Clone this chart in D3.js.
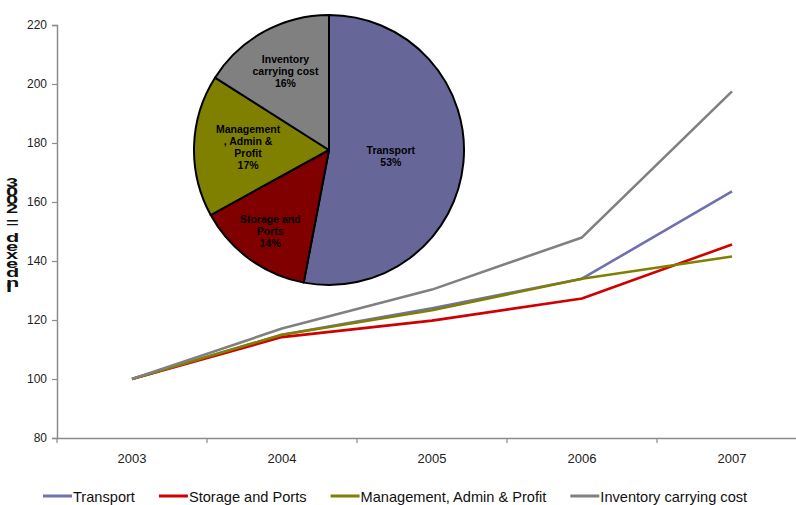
<!DOCTYPE html>
<html>
<head>
<meta charset="utf-8">
<script src="https://cdn.jsdelivr.net/npm/d3@7"></script>
<style>
  html, body { margin: 0; padding: 0; background: #fff; }
  svg { display: block; }
</style>
</head>
<body>
<svg id="chart" width="796" height="505"></svg>
<script>
// ---- data ----
const years = ["2003", "2004", "2005", "2006", "2007"];
const seriesNames = ["Transport", "Storage and Ports", "Management, Admin & Profit", "Inventory carrying cost"];
const transport = [100, 115, 124, 134, 163.6];
const storagePorts = [100, 114.2, 119.8, 127.3, 145.6];
const managementAdmin = [100, 115, 123.3, 134, 141.5];
const inventoryCost = [100, 117.1, 130.3, 148, 197.5];
const yTicks = [80, 100, 120, 140, 160, 180, 200, 220];
const yTitle = "Indexed = 2003";

// cost shares shown in the inset pie (percent)
const shareValues = [53, 14, 17, 16];
const shareLabelLines = [["Transport"], ["Storage and", "Ports"], ["Management", ", Admin &", "Profit"], ["Inventory", "carrying cost"]];

// ---- styling ----
const lineColors = ["#7070b0", "#d00000", "#808000", "#808080"];
const pieColors = ["#666699", "#800000", "#808000", "#808080"];
const axisColor = "#8c8c8c";
const tickFont = "'Liberation Sans', Arial, sans-serif";

const svg = d3.select("#chart");

// ---- scales ----
const x = d3.scaleBand().domain(years).range([57, 807]).padding(0);
const y = d3.scaleLinear().domain([80, 220]).range([438, 25]);
const cx = d => x(d) + x.bandwidth() / 2;

// ---- axes ----
const yAxis = svg.append("g")
  .attr("transform", `translate(${x.range()[0]},0)`)
  .call(d3.axisLeft(y).tickValues(yTicks).tickSize(5).tickPadding(5));
yAxis.select(".domain").attr("stroke", axisColor).attr("stroke-width", 1.5);
yAxis.selectAll(".tick line").attr("stroke", axisColor).attr("stroke-width", 1.2);
yAxis.selectAll(".tick text").attr("fill", "#222").style("font", `12px ${tickFont}`);

const xAxis = svg.append("g")
  .attr("transform", `translate(0,${y(80)})`)
  .call(d3.axisBottom(x).tickSize(0).tickPadding(16));
xAxis.select(".domain").attr("stroke", axisColor).attr("stroke-width", 1.5);
xAxis.selectAll(".tick text").attr("fill", "#222").style("font", `13px ${tickFont}`);
// category boundary tick marks
xAxis.selectAll(".bound").data(years).enter().append("line")
  .attr("class", "bound")
  .attr("x1", d => x(d)).attr("x2", d => x(d))
  .attr("y1", 0).attr("y2", 5)
  .attr("stroke", axisColor).attr("stroke-width", 1.2);

// axis title: runs bottom-to-top with each glyph turned upright, squeezed vertically
svg.append("g")
  .attr("transform", "translate(6,292) scale(1.55,0.85) rotate(-90)")
  .append("text")
  .attr("rotate", 90)
  .attr("fill", "#111")
  .style("font", `bold 14px ${tickFont}`)
  .style("letter-spacing", "2.4px")
  .text(yTitle);

// ---- lines ----
const series = [transport, storagePorts, managementAdmin, inventoryCost];
const line = d3.line().x((d, i) => cx(years[i])).y(d => y(d));
svg.append("g").selectAll("path").data(series).enter().append("path")
  .attr("d", d => line(d))
  .attr("fill", "none")
  .attr("stroke", (d, i) => lineColors[i])
  .attr("stroke-width", 2.6)
  .attr("stroke-linejoin", "round");

// ---- inset pie ----
const pieCenter = [329, 150];
const pieR = 135;
const pie = d3.pie().sort(null).value(d => d);
const arcs = pie(shareValues);
const arc = d3.arc().innerRadius(0).outerRadius(pieR);
const pieG = svg.append("g").attr("transform", `translate(${pieCenter[0]},${pieCenter[1]})`);
pieG.selectAll("path").data(arcs).enter().append("path")
  .attr("d", arc)
  .attr("fill", (d, i) => pieColors[i])
  .attr("stroke", "#000")
  .attr("stroke-width", 2)
  .attr("stroke-linejoin", "round");

// label distance from centre, as a fraction of the radius, per slice
const labelRadius = [0.46, 0.74, 0.6, 0.67];
const pct = d3.format(".0%");
const total = d3.sum(shareValues);
arcs.forEach((a, i) => {
  const mid = (a.startAngle + a.endAngle) / 2;
  const r = pieR * labelRadius[i];
  const lx = Math.sin(mid) * r;
  const ly = -Math.cos(mid) * r;
  const lines = shareLabelLines[i].concat([pct(a.value / total)]);
  const lh = 12;
  const t = pieG.append("text")
    .attr("text-anchor", "middle")
    .attr("fill", "#000")
    .style("font", `bold 10.5px ${tickFont}`);
  lines.forEach((s, k) => {
    t.append("tspan")
      .attr("x", lx)
      .attr("y", ly - (lines.length - 1) * lh / 2 + k * lh + 4)
      .text(s);
  });
});

// ---- legend ----
const legend = svg.append("g").attr("transform", "translate(43,496)");
let lxPos = 0;
seriesNames.forEach((name, i) => {
  const g = legend.append("g").attr("transform", `translate(${lxPos},0)`);
  g.append("line").attr("x1", 0).attr("x2", 29).attr("y1", 0).attr("y2", 0)
    .attr("stroke", lineColors[i]).attr("stroke-width", 3);
  const t = g.append("text").attr("x", 30).attr("y", 5.5)
    .attr("fill", "#111")
    .style("font", `14.6px ${tickFont}`)
    .text(name);
  lxPos += 30 + t.node().getComputedTextLength() + 24;
});
</script>
</body>
</html>
